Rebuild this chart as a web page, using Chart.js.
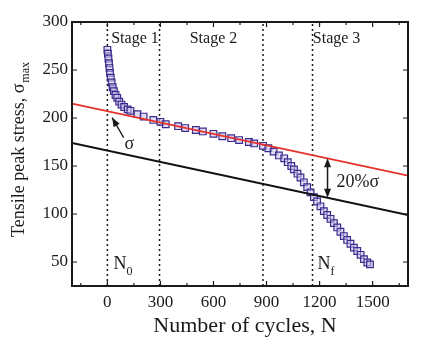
<!DOCTYPE html>
<html>
<head>
<meta charset="utf-8">
<script src="https://cdn.jsdelivr.net/npm/chart.js@4.4.1/dist/chart.umd.min.js"></script>
<style>
  html, body { margin: 0; padding: 0; background: #fff; }
  #wrap { width: 436px; height: 343px; }
</style>
</head>
<body>
<div id="wrap"><canvas id="fatiga"></canvas></div>
<script>
// peak stress per cycle
const cycles = [0, 3, 6, 9, 12, 15, 19, 24, 30, 37, 46, 56, 67, 80, 95, 115, 130, 170, 205, 260, 300, 330,
    400, 440, 500, 540, 600, 650, 700, 745, 800, 830, 880,
    910, 940, 970, 1000, 1020, 1040, 1055, 1075, 1092, 1111, 1130, 1149, 1168, 1186, 1205, 1224,
    1243, 1262, 1281, 1300, 1318, 1337, 1356, 1375, 1394, 1413, 1432, 1451, 1470, 1485];
const stress = [271, 267, 262, 257, 252, 247, 242, 237, 232, 228, 224, 221, 217, 214, 211.5, 209, 207.5, 204, 201.5, 198, 196, 193.5,
    191.5, 189.5, 187.5, 186, 183.5, 181, 179, 177, 175, 173.5, 171,
    168.5, 165, 161, 158, 154, 150, 146.5, 142, 138, 133, 128, 122.5, 117.5, 113, 108, 103,
    99, 95, 90.5, 86, 81.5, 77, 73, 69, 65, 61.5, 57.5, 53, 49.5, 47.5];

// fitted line and the 20% offset line
const lineX = [-200, 1700];
const sigmaLine = [215, 140];
const failLine = [174, 99];

// stage boundaries, N0 and Nf
const stageBounds = [0, 295, 880, 1160];
const stageNames = ['Stage 1', 'Stage 2', 'Stage 3'];
const stageLabelX = [156, 600, 1296];

const xTicks = [0, 300, 600, 900, 1200, 1500];
const xMinor = [-150, 150, 450, 750, 1050, 1350, 1650];
const yTicks = [50, 100, 150, 200, 250, 300];

const SERIF = '"Liberation Serif", "DejaVu Serif", serif';
const INK = '#1a1a1a';

function lineAt(ys, x) {
    const t = (x - lineX[0]) / (lineX[1] - lineX[0]);
    return ys[0] + t * (ys[1] - ys[0]);
}

function arrowHead(ctx, x1, y1, x2, y2, len, half) {
    const a = Math.atan2(y2 - y1, x2 - x1);
    ctx.beginPath();
    ctx.moveTo(x2, y2);
    ctx.lineTo(x2 - len * Math.cos(a) + half * Math.sin(a), y2 - len * Math.sin(a) - half * Math.cos(a));
    ctx.lineTo(x2 - len * Math.cos(a) - half * Math.sin(a), y2 - len * Math.sin(a) + half * Math.cos(a));
    ctx.closePath();
    ctx.fill();
}

const marcoPlugin = {
    id: 'marco',
    afterDraw(chart) {
        const ctx = chart.ctx;
        const xs = chart.scales.x, ys = chart.scales.y;
        const a = chart.chartArea;
        const px = v => xs.getPixelForValue(v);
        const py = v => ys.getPixelForValue(v);
        ctx.save();
        ctx.strokeStyle = INK;
        ctx.fillStyle = INK;

        // frame
        ctx.lineWidth = 2;
        ctx.strokeRect(a.left, a.top, a.right - a.left, a.bottom - a.top);

        // inward ticks on all sides
        ctx.lineWidth = 1.2;
        ctx.beginPath();
        xTicks.forEach(v => {
            ctx.moveTo(px(v), a.bottom); ctx.lineTo(px(v), a.bottom - 5);
            ctx.moveTo(px(v), a.top); ctx.lineTo(px(v), a.top + 5);
        });
        xMinor.forEach(v => {
            ctx.moveTo(px(v), a.bottom); ctx.lineTo(px(v), a.bottom - 3);
            ctx.moveTo(px(v), a.top); ctx.lineTo(px(v), a.top + 3);
        });
        yTicks.forEach(v => {
            ctx.moveTo(a.left, py(v)); ctx.lineTo(a.left + 5, py(v));
            ctx.moveTo(a.right, py(v)); ctx.lineTo(a.right - 5, py(v));
        });
        ctx.stroke();

        // stage labels
        ctx.font = '16px ' + SERIF;
        ctx.textAlign = 'center';
        ctx.textBaseline = 'alphabetic';
        stageNames.forEach((s, i) => ctx.fillText(s, px(stageLabelX[i]), py(278.5)));

        // N0 and Nf
        ctx.textAlign = 'left';
        ctx.font = '18px ' + SERIF;
        ctx.fillText('N', px(34), py(43));
        ctx.fillText('N', px(1188), py(43));
        ctx.font = '12px ' + SERIF;
        ctx.fillText('0', px(34) + 13, py(43) + 6);
        ctx.fillText('f', px(1188) + 13, py(43) + 6);

        // sigma pointer
        ctx.lineWidth = 1.3;
        const tx = px(92), ty = py(179.6), hx = px(27), hy = py(200.4);
        ctx.beginPath();
        ctx.moveTo(tx, ty); ctx.lineTo(hx, hy);
        ctx.stroke();
        arrowHead(ctx, tx, ty, hx, hy, 9, 3.5);
        ctx.font = '18px ' + SERIF;
        ctx.textAlign = 'center';
        ctx.textBaseline = 'middle';
        ctx.fillText('σ', px(125), py(173));

        // 20% gap between the two lines
        const gx = px(1245);
        const gTop = py(lineAt(sigmaLine, 1245)), gBot = py(lineAt(failLine, 1245));
        ctx.lineWidth = 1.5;
        ctx.beginPath();
        ctx.moveTo(gx, gTop + 4); ctx.lineTo(gx, gBot - 4);
        ctx.stroke();
        arrowHead(ctx, gx, gBot, gx, gTop, 9, 3.5);
        arrowHead(ctx, gx, gTop, gx, gBot, 9, 3.5);
        ctx.textAlign = 'left';
        ctx.font = '18px ' + SERIF;
        ctx.fillText('20%σ', px(1296), py(133));

        // axis titles
        ctx.textAlign = 'center';
        ctx.textBaseline = 'middle';
        ctx.font = '22px ' + SERIF;
        ctx.fillText('Number of cycles, N', (a.left + a.right) / 2 + 5, 326);

        ctx.translate(18, 150);
        ctx.rotate(-Math.PI / 2);
        ctx.font = '18px ' + SERIF;
        const main = 'Tensile peak stress, σ';
        const w1 = ctx.measureText(main).width;
        ctx.font = '12px ' + SERIF;
        const w2 = ctx.measureText('max').width;
        ctx.textAlign = 'left';
        ctx.textBaseline = 'alphabetic';
        ctx.font = '18px ' + SERIF;
        ctx.fillText(main, -(w1 + w2) / 2, 6);
        ctx.font = '12px ' + SERIF;
        ctx.fillText('max', -(w1 + w2) / 2 + w1 + 1, 11);
        ctx.restore();
    }
};

const puntos = cycles.map((c, i) => ({ x: c, y: stress[i] }));
const recta = ys => lineX.map((x, i) => ({ x: x, y: ys[i] }));

const divisiones = stageBounds.map(b => ({
    data: [{ x: b, y: 25 }, { x: b, y: 300 }],
    showLine: true,
    borderColor: INK,
    borderWidth: 1.5,
    borderDash: [2, 3],
    pointRadius: 0,
    order: 3
}));

new Chart(document.getElementById('fatiga'), {
    type: 'scatter',
    data: {
        datasets: [
            {
                data: recta(sigmaLine),
                showLine: true,
                borderColor: '#e8302a',
                borderWidth: 1.8,
                pointRadius: 0,
                order: 0
            },
            {
                data: recta(failLine),
                showLine: true,
                borderColor: '#111111',
                borderWidth: 2,
                pointRadius: 0,
                order: 0
            },
            {
                data: puntos,
                pointStyle: 'rect',
                pointRadius: 4.7,
                borderColor: '#3a2b8c',
                backgroundColor: 'rgba(200, 192, 236, 0.55)',
                pointBorderWidth: 1.2,
                order: 1
            },
            ...divisiones
        ]
    },
    options: {
        responsive: true,
        maintainAspectRatio: false,
        animation: false,
        layout: { padding: { top: 22, right: 28, left: 0, bottom: 0 } },
        plugins: {
            legend: { display: false },
            tooltip: { enabled: false }
        },
        scales: {
            x: {
                type: 'linear',
                min: -200,
                max: 1700,
                grid: { display: false, drawTicks: false },
                border: { display: false },
                afterBuildTicks: s => { s.ticks = xTicks.map(v => ({ value: v })); },
                afterFit: s => { s.height = 57; },
                ticks: {
                    padding: 6,
                    color: INK,
                    maxRotation: 0,
                    callback: v => String(v),
                    font: { family: SERIF, size: 17 }
                }
            },
            y: {
                type: 'linear',
                min: 25,
                max: 300,
                grid: { display: false, drawTicks: false },
                border: { display: false },
                afterBuildTicks: s => { s.ticks = yTicks.map(v => ({ value: v })); },
                afterFit: s => { s.width = 72; },
                ticks: {
                    padding: 4,
                    color: INK,
                    callback: v => String(v),
                    font: { family: SERIF, size: 17 }
                }
            }
        }
    },
    plugins: [marcoPlugin]
});
</script>
</body>
</html>
